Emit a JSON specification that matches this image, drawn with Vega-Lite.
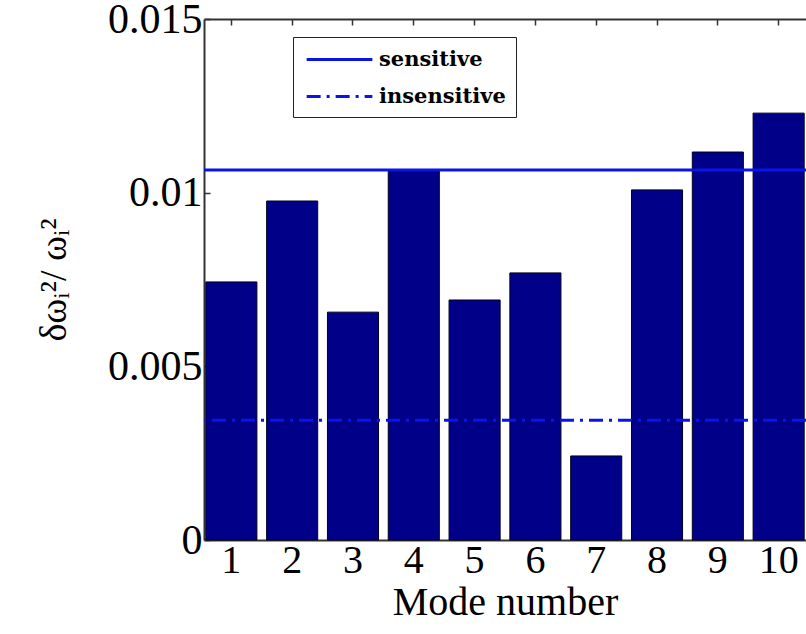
{
  "$schema": "https://vega.github.io/schema/vega-lite/v6.json",
  "width": 602,
  "height": 521,
  "autosize": "none",
  "padding": {"left": 204, "top": 19, "right": 0, "bottom": 94},
  "background": "white",
  "config": {
    "view": {"stroke": null},
    "font": "Liberation Serif"
  },
  "datasets": {
    "bars": [
      {"mode": 1, "value": 0.00743},
      {"mode": 2, "value": 0.00976},
      {"mode": 3, "value": 0.00656},
      {"mode": 4, "value": 0.01065},
      {"mode": 5, "value": 0.00691},
      {"mode": 6, "value": 0.00769},
      {"mode": 7, "value": 0.00242},
      {"mode": 8, "value": 0.01008},
      {"mode": 9, "value": 0.01117},
      {"mode": 10, "value": 0.01229}
    ],
    "lines": [
      {"type": "sensitive", "level": 0.01065},
      {"type": "insensitive", "level": 0.00345}
    ]
  },
  "resolve": {"axis": {"x": "independent"}},
  "layer": [
    {
      "data": {"name": "bars"},
      "mark": {"type": "bar", "color": "#000088", "stroke": "#000020", "strokeWidth": 1},
      "encoding": {
        "x": {
          "field": "mode", "type": "ordinal",
          "scale": {"paddingInner": 0.16, "paddingOuter": 0.03},
          "axis": {
            "orient": "bottom",
            "title": "Mode number",
            "titleFont": "Liberation Serif", "titleFontSize": 40, "titleFontWeight": "normal", "titleColor": "#000",
            "titlePadding": 2,
            "labelFont": "Liberation Serif", "labelFontSize": 40, "labelColor": "#000",
            "labelAngle": 0, "labelPadding": 6,
            "domainColor": "#333", "domainWidth": 2,
            "tickColor": "#333", "tickSize": -6, "tickWidth": 1.5
          }
        },
        "y": {
          "field": "value", "type": "quantitative",
          "scale": {"domain": [0, 0.015], "nice": false},
          "axis": {
            "title": "δωᵢ²/ ωᵢ²",
            "titleFont": "Liberation Serif", "titleFontSize": 38, "titleFontWeight": "normal", "titleColor": "#000",
            "titlePadding": 34,
            "values": [0, 0.005, 0.01, 0.015],
            "format": ".3~f",
            "labelFont": "Liberation Serif", "labelFontSize": 42, "labelColor": "#000",
            "labelPadding": 8,
            "grid": false,
            "domainColor": "#333", "domainWidth": 2,
            "tickColor": "#333", "tickSize": -6, "tickWidth": 1.5
          }
        }
      }
    },
    {
      "data": {"name": "bars"},
      "mark": {"type": "tick", "opacity": 0},
      "encoding": {
        "x": {
          "field": "mode", "type": "ordinal",
          "axis": {
            "orient": "top", "title": null, "labels": false,
            "domainColor": "#333", "domainWidth": 2,
            "tickColor": "#333", "tickSize": -6, "tickWidth": 1.5
          }
        }
      }
    },
    {
      "data": {"name": "lines"},
      "mark": {"type": "rule", "color": "#0a14e6", "strokeWidth": 3},
      "encoding": {
        "y": {"field": "level", "type": "quantitative"},
        "strokeDash": {
          "field": "type", "type": "nominal",
          "scale": {"domain": ["sensitive", "insensitive"], "range": [[1, 0], [14, 6, 3, 6]]},
          "legend": {
            "title": null,
            "orient": "none",
            "legendX": 89,
            "legendY": 18,
            "fillColor": "white",
            "strokeColor": "#222",
            "padding": 10,
            "symbolType": "M-3,0H3",
            "symbolSize": 480,
            "symbolStrokeWidth": 3,
            "symbolStrokeColor": "#0a14e6",
            "symbolOffset": 24,
            "labelFont": "DejaVu Serif",
            "labelFontWeight": "bold",
            "labelFontSize": 21,
            "labelColor": "#000",
            "rowPadding": 14,
            "labelOffset": 27
          }
        }
      }
    }
  ]
}
